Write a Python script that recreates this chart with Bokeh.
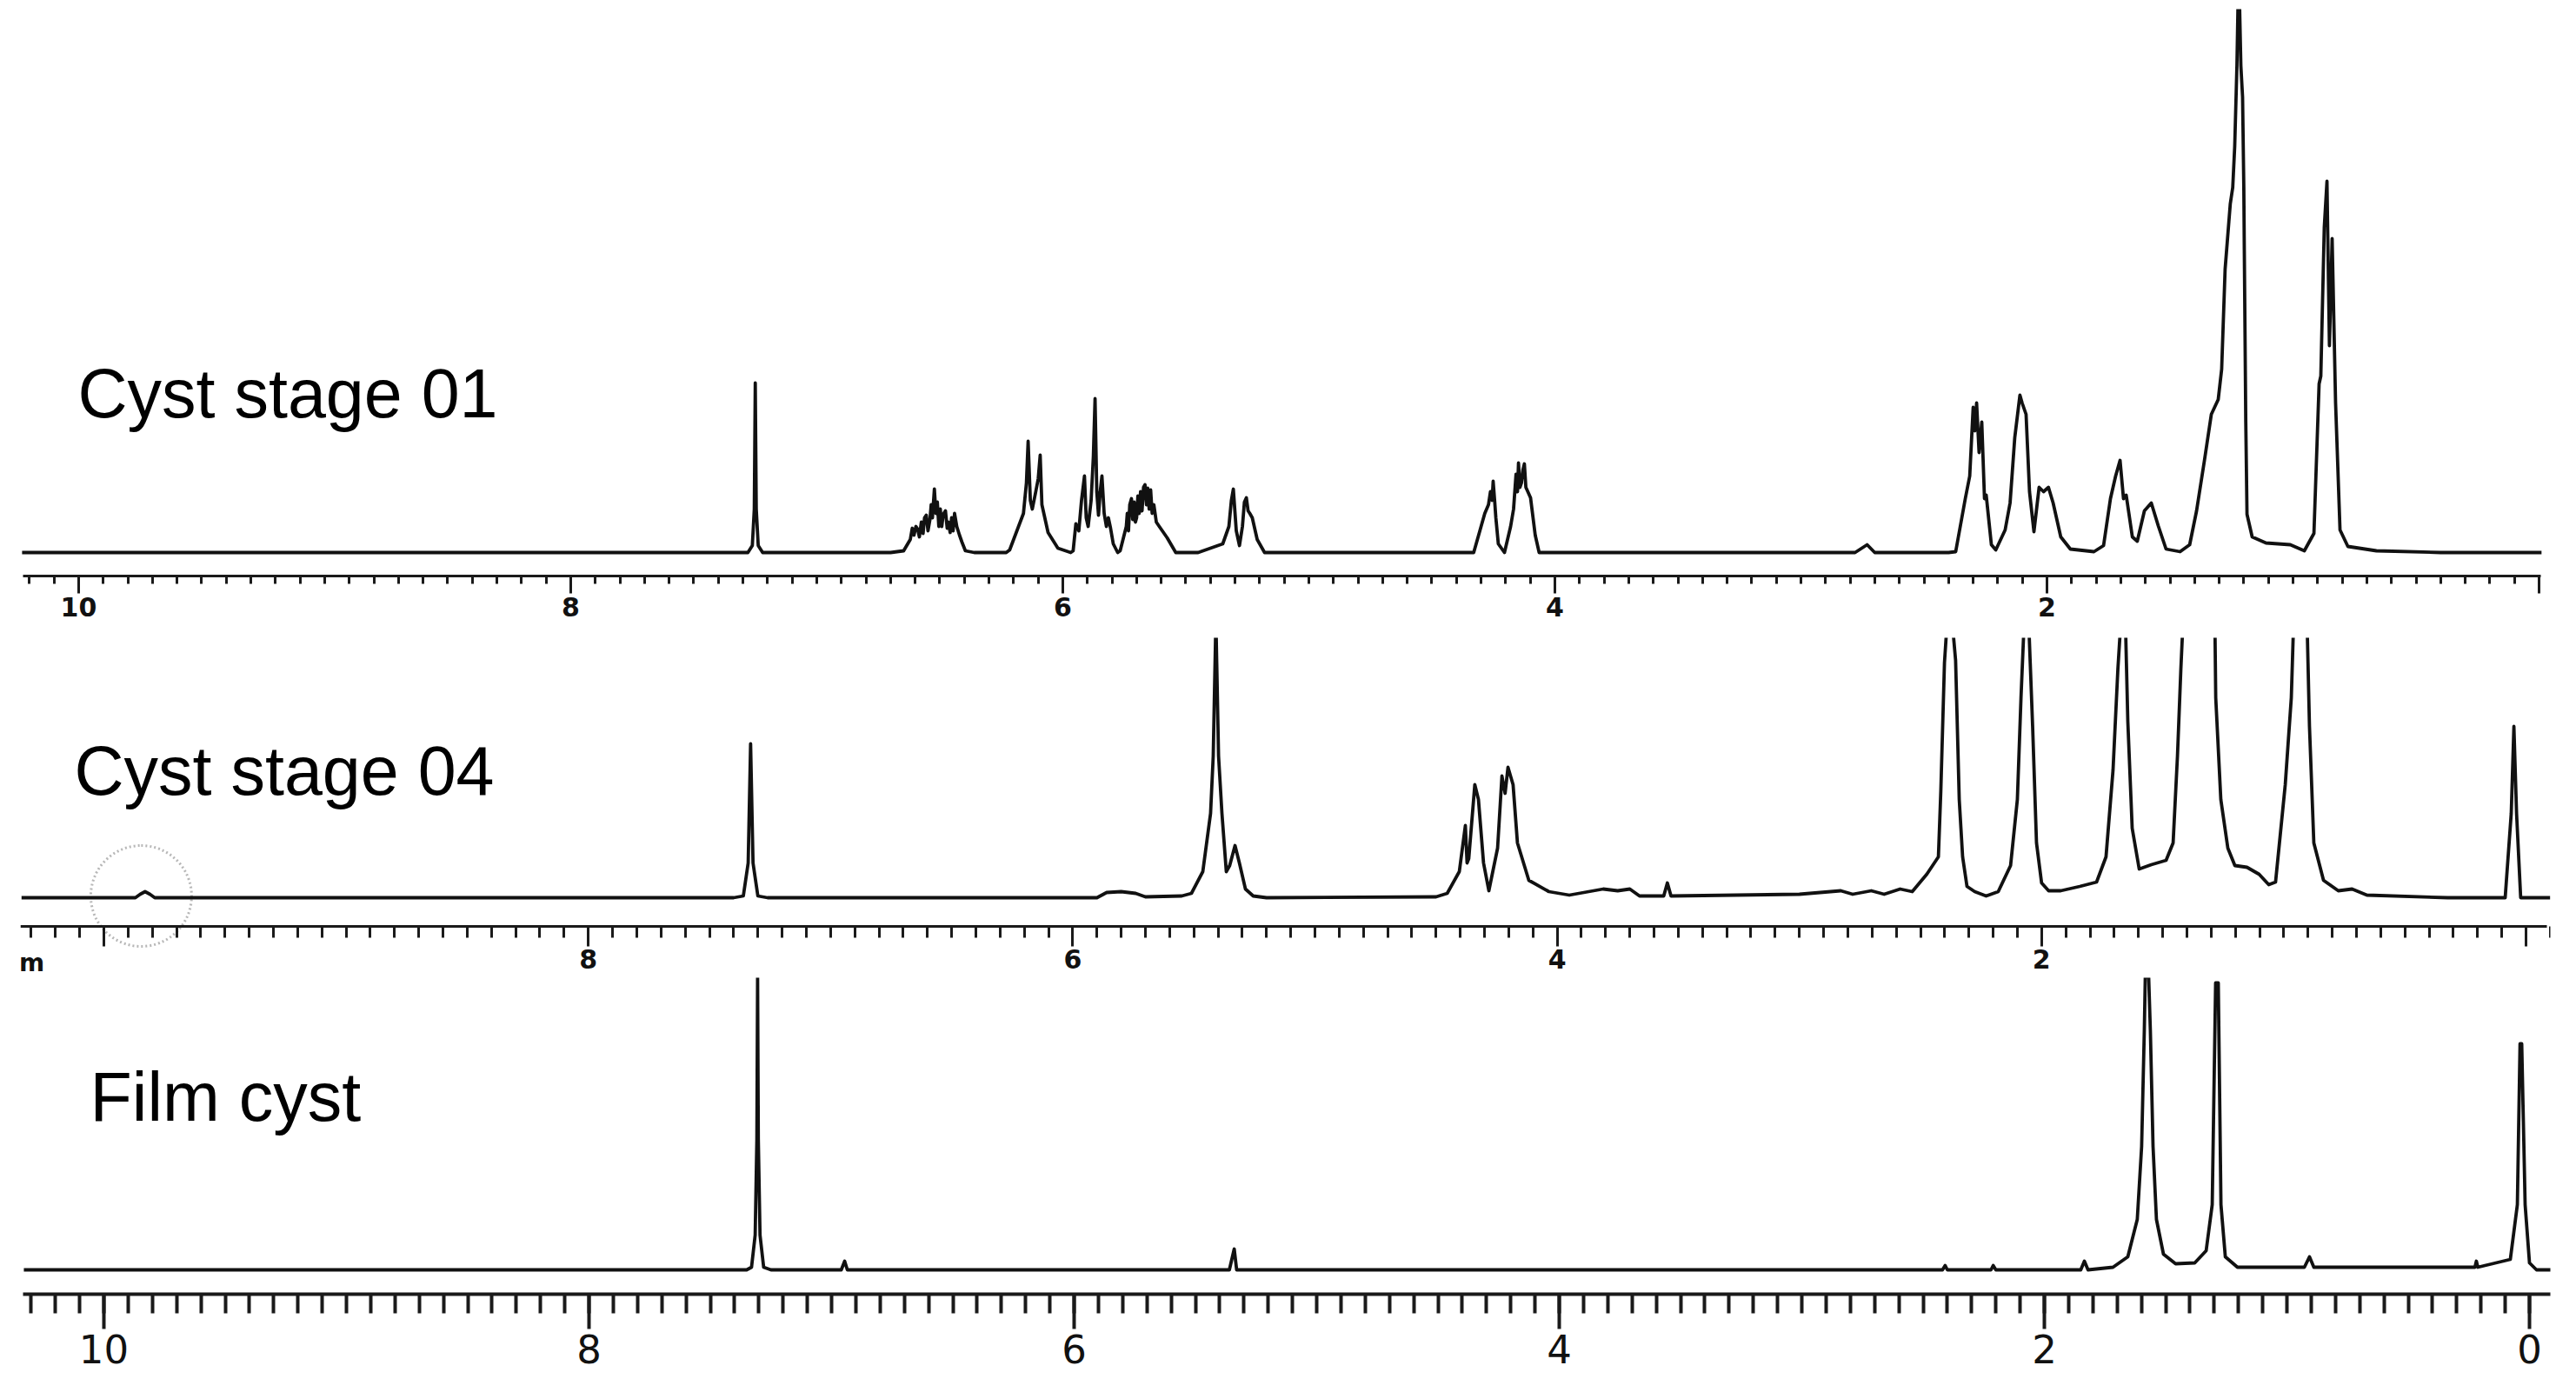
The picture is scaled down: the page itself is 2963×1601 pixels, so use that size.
from bokeh.plotting import figure
from bokeh.layouts import column
from bokeh.models import Range1d, FixedTicker, Label, BoxAnnotation, ColumnDataSource
from bokeh.embed import file_html
from bokeh.resources import INLINE

# ---------------- data (chemical shift in ppm, intensity in a.u.) ----------------
panel_titles = ["Cyst stage 01", "Cyst stage 04", "Film cyst"]

stage01_ppm = [10.23, 7.28, 7.262, 7.254, 7.250, 7.246, 7.238, 7.22,
               6.70, 6.647, 6.62, 6.612, 6.605, 6.597, 6.59, 6.583, 6.575, 6.568, 6.562, 6.555, 6.548,
               6.54, 6.535, 6.53, 6.522, 6.516, 6.51, 6.504, 6.498, 6.492, 6.486, 6.477, 6.47, 6.465,
               6.458, 6.452, 6.446, 6.44, 6.431, 6.42, 6.41, 6.396, 6.36,
               6.23, 6.216, 6.184, 6.16, 6.148, 6.141, 6.132, 6.124, 6.11, 6.1, 6.092, 6.085, 6.06,
               6.02, 5.968,
               5.958, 5.947, 5.935, 5.924, 5.912, 5.905, 5.897, 5.885, 5.876, 5.869, 5.862, 5.855,
               5.848, 5.841, 5.832, 5.823, 5.815, 5.806, 5.795, 5.777,
               5.767, 5.742, 5.738, 5.733, 5.728, 5.721, 5.716, 5.71, 5.705, 5.700, 5.695, 5.69,
               5.684, 5.678, 5.672, 5.666, 5.660, 5.655, 5.649, 5.643, 5.637, 5.63, 5.62, 5.608,
               5.576, 5.541,
               5.45, 5.350, 5.325, 5.315, 5.307, 5.295, 5.282, 5.27, 5.262, 5.254, 5.247, 5.240,
               5.230, 5.21, 5.180,
               4.33, 4.300, 4.285, 4.27, 4.262, 4.255, 4.251, 4.245, 4.240, 4.230, 4.205, 4.18,
               4.168, 4.158, 4.152, 4.148, 4.142, 4.136, 4.13, 4.124, 4.118, 4.11, 4.099, 4.08, 4.064,
               2.78, 2.731, 2.70, 2.40,
               2.371, 2.332, 2.314, 2.300, 2.293, 2.286, 2.276, 2.265, 2.254, 2.247, 2.226, 2.208,
               2.170, 2.150, 2.131, 2.110, 2.101, 2.085, 2.071, 2.053, 2.032, 2.014, 1.994, 1.975,
               1.944, 1.905, 1.809,
               1.770, 1.742, 1.721, 1.703, 1.689, 1.678, 1.653, 1.633, 1.604, 1.576, 1.548, 1.516, 1.459,
               1.420, 1.392, 1.360, 1.332, 1.304, 1.290, 1.276, 1.255, 1.245, 1.237, 1.228, 1.223,
               1.218, 1.212, 1.205, 1.200, 1.198, 1.192, 1.187, 1.166, 1.110, 1.011, 0.954,
               0.915, 0.894, 0.887, 0.873, 0.862, 0.852, 0.841, 0.827, 0.809, 0.777, 0.661, 0.40, -0.01]
stage01_int = [0, 0, 8, 50, 195, 50, 8, 0,
               0, 2, 15, 28, 20, 30, 27, 18, 35, 22, 40, 43, 25,
               38, 55, 40, 73, 45, 58, 30, 50, 30, 44,
               48, 28, 35, 23, 40, 25, 45, 30, 20, 12, 2, 0,
               0, 3, 27, 45, 80, 128, 60, 50, 70, 85, 112, 55, 23,
               5, 0,
               2, 33, 25, 60, 88, 40, 30, 60, 110, 177, 70, 43,
               70, 88, 45, 30, 40, 28, 10, 0,
               2, 30, 45, 25, 55, 62, 38, 58, 35, 40, 65, 45,
               70, 48, 75, 78, 55, 74, 50, 72, 45, 55, 35, 30,
               17, 0,
               0, 10, 30, 60, 73, 25, 8, 30, 58, 63, 48, 45,
               40, 15, 0,
               0, 30, 45, 55, 70, 60, 82, 60, 40, 10, 0, 30,
               50, 90, 70, 103, 75, 80, 95, 102, 75, 70, 63, 20, 0,
               0, 9, 0, 0,
               1, 62, 88, 167, 140, 172, 115, 150, 62, 66, 9, 3,
               26, 57, 132, 181, 172, 159, 70, 24, 75, 70, 75, 57,
               18, 4, 1,
               8, 62, 88, 106, 62, 66, 18, 13, 48, 57, 31, 4, 1,
               9, 48, 106, 159, 176, 211, 326, 401, 420, 467, 560, 640,
               640, 560, 524, 420, 348, 150, 44, 18, 11, 9, 2,
               22, 194, 203, 374, 427, 238, 361, 172, 26, 7, 2, 0, 0]

stage04_ppm = [10.34, 9.87, 9.85, 9.83, 9.81, 9.79, 7.40, 7.36, 7.34, 7.33, 7.32, 7.30, 7.26,
               5.90, 5.86, 5.80, 5.74, 5.70, 5.55, 5.510, 5.463, 5.431, 5.420, 5.409, 5.398, 5.384,
               5.366, 5.352, 5.330, 5.312, 5.287, 5.255, 5.20,
               4.50, 4.454, 4.404, 4.379, 4.372, 4.365, 4.340, 4.325, 4.304, 4.282, 4.246, 4.228,
               4.215, 4.203, 4.182, 4.164, 4.117, 4.034, 3.95, 3.81, 3.75, 3.70, 3.66, 3.56, 3.545,
               3.53, 3.0, 2.829, 2.78, 2.703, 2.65, 2.584, 2.534,
               2.474, 2.426, 2.416, 2.401, 2.387, 2.373, 2.355, 2.340, 2.326, 2.308, 2.276, 2.229,
               2.179, 2.128, 2.100, 2.085, 2.070, 2.055, 2.037, 2.021, 2.000, 1.971, 1.921, 1.842,
               1.773, 1.734, 1.705, 1.685, 1.670, 1.655, 1.644, 1.626, 1.597, 1.547, 1.486, 1.457,
               1.439, 1.425, 1.414, 1.35, 1.285, 1.281, 1.260, 1.231, 1.202, 1.152, 1.102, 1.062,
               1.034, 0.994, 0.969, 0.958, 0.905, 0.894, 0.876, 0.836, 0.775, 0.718, 0.657, 0.323,
               0.086, 0.061, 0.050, 0.039, 0.022, -0.10]
stage04_int = [0, 0, 4, 7, 4, 0, 0, 2, 40, 177, 40, 2, 0,
               0, 6, 7, 5, 1, 2, 5, 30, 97, 163, 320, 163, 97,
               30, 37, 60, 40, 10, 2, 0,
               1, 5, 30, 83, 40, 45, 130, 113, 40, 8, 57, 140,
               120, 150, 130, 63, 20, 7, 3, 10, 8, 10, 2, 2, 17,
               2, 4, 8, 4, 8, 4, 10, 7,
               27, 47, 123, 270, 330, 330, 273, 113, 47, 13, 7, 2,
               7, 37, 113, 230, 330, 330, 197, 63, 17, 8, 8, 13,
               18, 47, 147, 263, 330, 330, 203, 80, 33, 38, 43, 63,
               163, 263, 330, 500, 330, 230, 113, 57, 37, 35, 27, 15,
               18, 130, 230, 330, 330, 197, 63, 20, 8, 10, 3, 0,
               0, 97, 197, 97, 0, 0]

film_ppm = [10.33, 7.35, 7.33, 7.315, 7.308, 7.305, 7.302, 7.295, 7.28, 7.25,
            6.96, 6.946, 6.935, 5.36, 5.34, 5.33, 2.42, 2.409, 2.40, 2.22, 2.211, 2.20,
            1.85, 1.835, 1.82,
            1.717, 1.656, 1.617, 1.599, 1.588, 1.584, 1.570, 1.563, 1.552, 1.538, 1.509, 1.459,
            1.380, 1.333, 1.308, 1.294, 1.283, 1.272, 1.254, 1.204, 0.928, 0.907, 0.889,
            0.225, 0.219, 0.213, 0.079, 0.050, 0.039, 0.032, 0.018, 0.0, -0.029, -0.09]
film_int = [0, 0, 3, 40, 150, 337, 150, 40, 3, 0,
            0, 10, 0, 0, 24, 0, 0, 5, 0, 0, 5, 0,
            0, 10, 0,
            3, 15, 58, 142, 275, 337, 337, 275, 142, 58, 18, 7,
            8, 22, 75, 330, 330, 75, 15, 3, 3, 15, 3,
            3, 10, 3, 12, 75, 260, 260, 75, 8, 0, 0]

tick_values = [10, 8, 6, 4, 2, 0]
highlight_ppm = [9.846]   # dotted circle in "Cyst stage 04"

LINE = "#111111"
W = 2950
BORDER_L, BORDER_R = 23, 17


def panel(ppm, inten, xr, yr, height, borders, bounds, tick_style, hidden_labels, fixed=None):
    top, bottom = borders
    p = figure(width=W, height=height, x_range=Range1d(*xr), y_range=Range1d(*yr),
               output_backend="svg", toolbar_location=None, y_axis_location=None,
               min_border_top=top, min_border_bottom=bottom,
               min_border_left=BORDER_L, min_border_right=BORDER_R)
    p.outline_line_color = None
    p.grid.visible = False
    p.background_fill_color = "white"
    p.border_fill_color = "white"
    src = ColumnDataSource(dict(ppm=ppm, inten=inten))
    p.line("ppm", "inten", source=src, line_color=LINE, line_width=3.8, line_join="round")

    ax = p.xaxis[0]
    minor = [round(-0.1 + 0.1 * i, 1) for i in range(106)]
    ax.ticker = FixedTicker(ticks=tick_values, minor_ticks=minor)
    ax.bounds = bounds
    if fixed is not None:
        ax.fixed_location = fixed
    lw, minor_out, major_out, font, standoff, weight = tick_style
    ax.axis_line_width = lw
    ax.axis_line_color = "#1a1a1a"
    ax.major_tick_line_width = lw
    ax.minor_tick_line_width = lw
    ax.major_tick_line_color = "#1a1a1a"
    ax.minor_tick_line_color = "#1a1a1a"
    ax.major_tick_in = 0
    ax.minor_tick_in = 0
    ax.major_tick_out = major_out
    ax.minor_tick_out = minor_out
    ax.major_label_text_font = "DejaVu Sans"
    ax.major_label_text_font_style = weight
    ax.major_label_text_font_size = f"{font}px"
    ax.major_label_text_color = "#111111"
    ax.major_label_standoff = standoff
    ax.major_label_overrides = {t: "" for t in hidden_labels}
    return p


def title(p, x, y, text):
    p.add_layout(Label(x=x, y=y, text=text, text_font="Liberation Sans",
                       text_font_size="79px", text_color="black", text_baseline="alphabetic"))


p1 = panel(stage01_ppm, stage01_int, (10.2367, -0.0459), (-27, 625), 725, (10, 63),
           (10.226, -0.007), (3, 9, 20, 30, 4, "bold"), [0])
title(p1, 10.0035, 183, panel_titles[0])

p2 = panel(stage04_ppm, stage04_int, (10.3446, -0.1005), (-92, 299), 399, (8, 0),
           (10.345, -0.086), (3, 13, 23, 30, 3, "bold"), [10, 0], fixed=-33)
title(p2, 10.122, 146, panel_titles[1])
p2.add_layout(Label(x=10.298, y=-75, text="m", text_font="DejaVu Sans", text_font_style="bold",
                    text_font_size="28px", text_color="#111111", text_baseline="middle",
                    text_align="center"))
r = 58 / 278.6
p2.add_layout(BoxAnnotation(left=highlight_ppm[0] + r, right=highlight_ppm[0] - r, bottom=-56, top=60,
                            border_radius=58, fill_alpha=0, line_color="#111111", line_width=3,
                            line_dash="2 3"))

p3 = panel(film_ppm, film_int, (10.3441, -0.0860), (-28, 336), 466, (0, 102),
           (10.333, -0.086), (4, 22, 40, 45, 6, "normal"), [])
title(p3, 10.057, 199, panel_titles[2])

layout = column(p1, p2, p3, spacing=0)
open("out.html", "w").write(file_html(layout, INLINE))
